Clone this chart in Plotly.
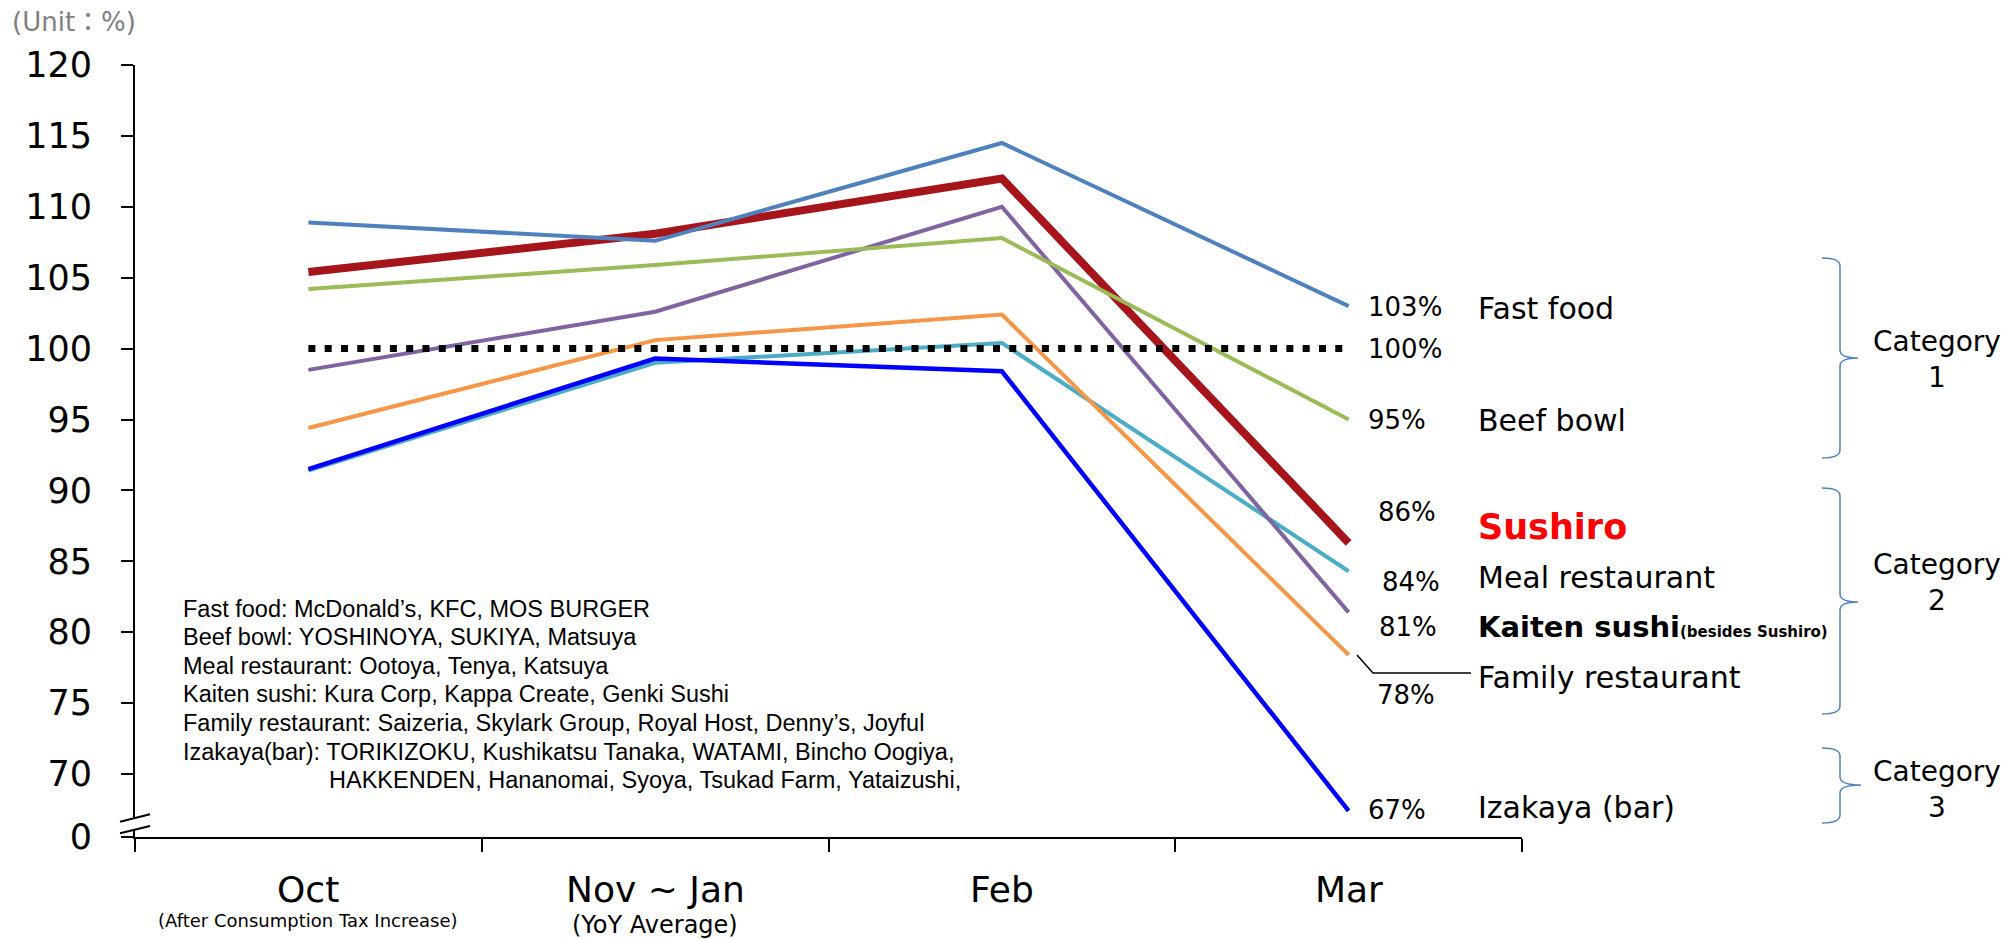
import plotly.graph_objects as go

# ---------------- data ----------------
categories = ["Oct", "Nov ~ Jan", "Feb", "Mar"]
category_subtitles = ["(After Consumption Tax Increase)", "(YoY Average)", "", ""]

fast_food = [108.9, 107.6, 114.5, 103.0]
sushiro = [105.4, 108.1, 112.0, 86.3]
beef_bowl = [104.2, 105.9, 107.8, 95.0]
kaiten_sushi = [98.5, 102.6, 110.0, 81.4]
family_restaurant = [94.4, 100.6, 102.4, 78.4]
meal_restaurant = [91.4, 99.0, 100.4, 84.3]
izakaya = [91.5, 99.3, 98.4, 67.4]
baseline = [100, 100, 100, 100]

y_tick_values = [70, 75, 80, 85, 90, 95, 100, 105, 110, 115, 120]
y_tick_labels = ["70", "75", "80", "85", "90", "95", "100", "105", "110", "115", "120"]
axis_break_label = "0"

footnote_lines = [
    "Fast food: McDonald\u2019s, KFC, MOS BURGER",
    "Beef bowl: YOSHINOYA, SUKIYA, Matsuya",
    "Meal restaurant: Ootoya, Tenya, Katsuya",
    "Kaiten sushi: Kura Corp, Kappa Create, Genki Sushi",
    "Family restaurant: Saizeria, Skylark Group, Royal Host, Denny\u2019s, Joyful",
    "Izakaya(bar): TORIKIZOKU, Kushikatsu Tanaka, WATAMI, Bincho Oogiya,",
    "HAKKENDEN, Hananomai, Syoya, Tsukad Farm, Yataizushi,",
]

# ---------------- geometry ----------------
W, H = 2010, 939
L, R = 135, 1522
T, B = 65, 837
Y_BOTTOM = 65.56  # value shown at the broken-axis bottom ("0")

def px(xp):
    return (xp - L) / (R - L)

def py(yp):
    return (B - yp) / (B - T)

FONT = "DejaVu Sans"
ARIAL = "Liberation Sans, Arial"

fig = go.Figure()

series = [
    ("Sushiro", sushiro, "#a6141c", 8),
    ("Meal restaurant", meal_restaurant, "#4bacc6", 4),
    ("Izakaya (bar)", izakaya, "#0000ff", 4.5),
    ("Family restaurant", family_restaurant, "#f79646", 4),
    ("Kaiten sushi", kaiten_sushi, "#8064a2", 4),
    ("Beef bowl", beef_bowl, "#9bbb59", 4),
    ("Fast food", fast_food, "#4f81bd", 4),
]
for name, vals, color, width in series:
    fig.add_trace(go.Scatter(x=categories, y=vals, mode="lines", name=name,
                             line=dict(color=color, width=width)))

fig.add_trace(go.Scatter(x=categories, y=baseline, mode="lines", name="100%",
                         line=dict(color="black", width=7, dash="7px,9.3px")))

annotations = []

# unit label
annotations.append(dict(xref="paper", yref="paper", x=px(10), y=py(22), xanchor="left", yanchor="middle",
                        text="(Unit\uff1a%)", showarrow=False,
                        font=dict(family=FONT + ", Noto Sans CJK JP", size=26, color="#808080")))

# x category labels
for cat, sub in zip(categories, category_subtitles):
    annotations.append(dict(xref="x", yref="paper", x=cat, y=0, yanchor="middle", yshift=-52,
                            text=cat, showarrow=False, font=dict(family=FONT, size=36, color="black")))
    if sub:
        size = 18 if len(sub) > 20 else 24
        annotations.append(dict(xref="x", yref="paper", x=cat, y=0, yanchor="middle",
                                yshift=-(920 - B) if size == 18 else -(925 - B),
                                text=sub, showarrow=False, font=dict(family=FONT, size=size, color="black")))

# percent labels at Mar
pct_items = [
    (fast_food, 1366, 307), (baseline, 1366, 349), (beef_bowl, 1366, 420),
    (sushiro, 1376, 512), (meal_restaurant, 1380, 582), (kaiten_sushi, 1377, 627),
    (family_restaurant, 1375, 695), (izakaya, 1366, 810),
]
for vals, xp, yp in pct_items:
    annotations.append(dict(xref="paper", yref="paper", x=px(xp), y=py(yp), xanchor="left", yanchor="middle",
                            text=f"{vals[-1]:.0f}%", showarrow=False,
                            font=dict(family=FONT, size=26, color="black")))

# category names
name_items = [
    ("Fast food", 308, 30, "black", False),
    ("Beef bowl", 420, 30, "black", False),
    ("Sushiro", 527, 35, "#ff0000", True),
    ("Meal restaurant", 578, 30, "black", False),
    ("Family restaurant", 677, 30, "black", False),
    ("Izakaya (bar)", 807, 30, "black", False),
]
for txt, yp, size, color, bold in name_items:
    annotations.append(dict(xref="paper", yref="paper", x=px(1476), y=py(yp), xanchor="left", yanchor="middle",
                            text=f"<b>{txt}</b>" if bold else txt, showarrow=False,
                            font=dict(family=FONT, size=size, color=color)))
annotations.append(dict(xref="paper", yref="paper", x=px(1476), y=py(627), xanchor="left", yanchor="middle",
                        text="<b>Kaiten sushi<span style='font-size:15px'>(besides Sushiro)</span></b>",
                        showarrow=False, font=dict(family=FONT, size=29, color="black")))

# category group labels
for label, yc in [("Category<br>1", 359), ("Category<br>2", 582), ("Category<br>3", 789)]:
    annotations.append(dict(xref="paper", yref="paper", x=px(1937), y=py(yc), xanchor="center", yanchor="middle",
                            text=label, showarrow=False, align="center",
                            font=dict(family=FONT, size=28, color="black")))

# footnote
for i, line in enumerate(footnote_lines):
    xl = 327 if i == len(footnote_lines) - 1 else 181
    annotations.append(dict(xref="paper", yref="paper", x=px(xl), y=py(608.5 + i * 28.6),
                            xanchor="left", yanchor="middle", text=line, showarrow=False,
                            font=dict(family=ARIAL, size=23.5, color="black")))

shapes = []

def brace(top, mid, bot, x0=1822, x1=1840, x2=1858, r=8):
    p = (f"M {px(x0)},{py(top)} Q {px(x1)},{py(top)} {px(x1)},{py(top + r)} "
         f"L {px(x1)},{py(mid - r)} Q {px(x1)},{py(mid)} {px(x2)},{py(mid)} "
         f"Q {px(x1)},{py(mid)} {px(x1)},{py(mid + r)} "
         f"L {px(x1)},{py(bot - r)} Q {px(x1)},{py(bot)} {px(x0)},{py(bot)}")
    return dict(type="path", xref="paper", yref="paper", path=p,
                line=dict(color="#4f81bd", width=1.5))

shapes.append(brace(258, 358, 458))
shapes.append(brace(488, 602, 714))
shapes.append(brace(748, 785, 823, x2=1861))

# leader line for Family restaurant
shapes.append(dict(type="path", xref="paper", yref="paper",
                   path=f"M {px(1357)},{py(655)} L {px(1373)},{py(673)} L {px(1471)},{py(673)}",
                   line=dict(color="black", width=1.5)))

# axis break marks
shapes.append(dict(type="path", xref="paper", yref="paper", layer="above",
                   path=f"M {px(120)},{py(821.7)} L {px(150)},{py(814.3)} L {px(150)},{py(826)} L {px(120)},{py(833.3)} Z",
                   fillcolor="white", line=dict(width=0)))
for a, b in [(821.7, 814.3), (833.3, 826)]:
    shapes.append(dict(type="line", xref="paper", yref="paper", layer="above",
                       x0=px(120), y0=py(a), x1=px(150), y1=py(b),
                       line=dict(color="black", width=2)))

fig.update_layout(
    width=W, height=H,
    margin=dict(l=L, r=W - R, t=T, b=H - B, pad=0),
    paper_bgcolor="white", plot_bgcolor="white",
    showlegend=False,
    annotations=annotations,
    shapes=shapes,
    xaxis=dict(type="category", range=[-0.5, 3.5], showgrid=False, zeroline=False,
               showline=True, linecolor="black", linewidth=2,
               ticks="outside", tickson="boundaries", ticklen=13, tickwidth=2, tickcolor="black",
               showticklabels=False, fixedrange=True),
    yaxis=dict(range=[Y_BOTTOM, 120], showgrid=False, zeroline=False,
               showline=True, linecolor="black", linewidth=2,
               ticks="outside", ticklen=12, tickwidth=2, tickcolor="black",
               tickvals=[Y_BOTTOM] + y_tick_values, ticktext=[axis_break_label] + y_tick_labels,
               tickfont=dict(family=FONT, size=35, color="black"),
               ticklabelstandoff=22, fixedrange=True),
)

fig.write_html("out.html")
